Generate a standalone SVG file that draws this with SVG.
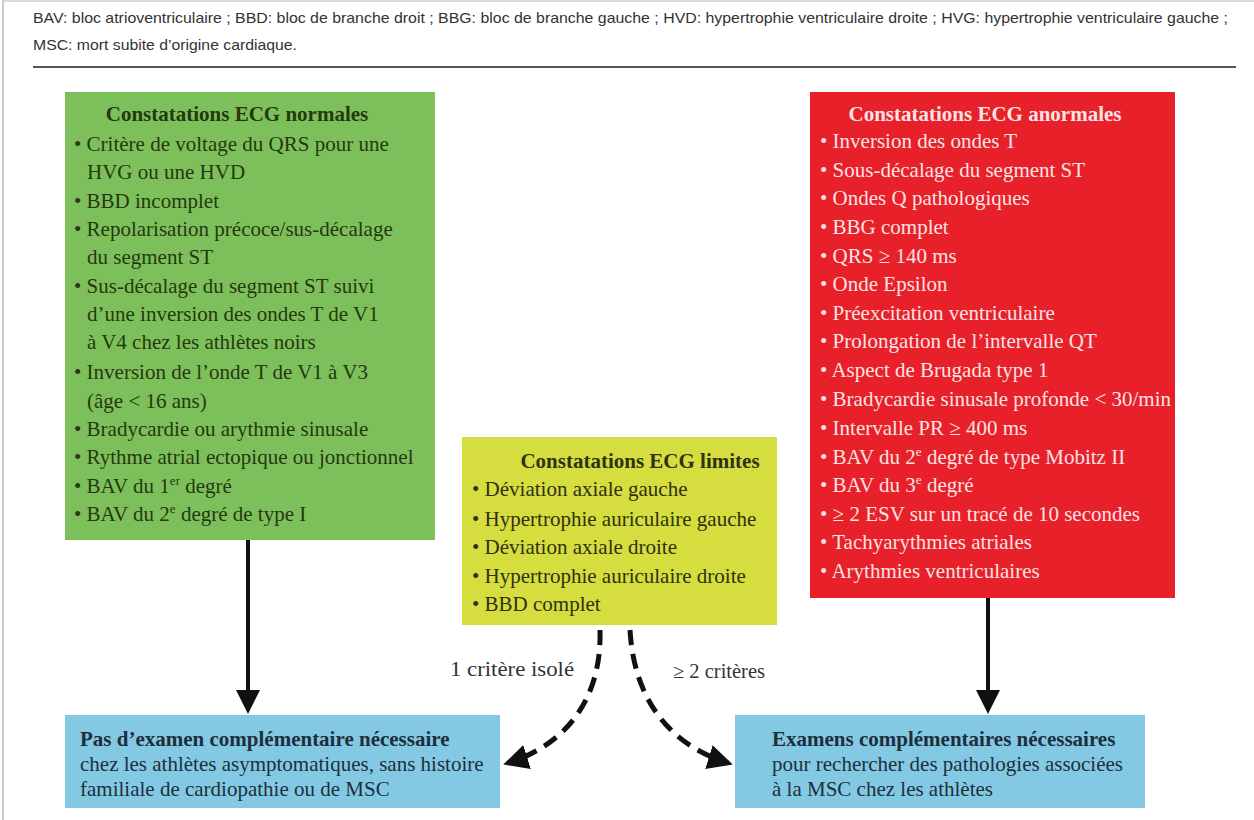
<svg xmlns="http://www.w3.org/2000/svg" width="1254" height="820" viewBox="0 0 1254 820">
<style>
.hdr{font-family:"Liberation Sans",Arial,sans-serif;font-size:14.5px;fill:#333}
.t{font-family:"Liberation Serif","Times New Roman",serif;font-size:21px}
.b{font-family:"Liberation Serif","Times New Roman",serif;font-size:21px;font-weight:bold}
.g{fill:#26380f}
.r{fill:#fbe3e3}
.y{fill:#2e3210}
.bl{fill:#1d2f3c}
.lbl{font-family:"Liberation Serif","Times New Roman",serif;font-size:20px;fill:#333}
.sup{font-size:13px}
.solid{stroke:#111;stroke-width:4;fill:none}
.dash{stroke:#111;stroke-width:5;fill:none;stroke-dasharray:15 9}
</style>
<defs>
<marker id="ah" markerWidth="6" markerHeight="6" refX="5" refY="3" orient="auto" markerUnits="strokeWidth">
<path d="M0,0 L6,3 L0,6 z" fill="#111"/>
</marker>
<marker id="ahd" markerWidth="5" markerHeight="5" refX="4" refY="2.5" orient="auto" markerUnits="strokeWidth">
<path d="M0,0 L5,2.5 L0,5 z" fill="#111"/>
</marker>
</defs>
<rect width="1254" height="820" fill="#fff"/>
<line x1="3" y1="0" x2="3" y2="820" stroke="#bbb" stroke-width="1.5"/>
<line x1="3" y1="1" x2="1254" y2="1" stroke="#ccc" stroke-width="1.5"/>
<g id="header">
<text class="hdr" x="33" y="23" textLength="1195" lengthAdjust="spacingAndGlyphs">BAV: bloc atrioventriculaire ; BBD: bloc de branche droit ; BBG: bloc de branche gauche ; HVD: hypertrophie ventriculaire droite ; HVG: hypertrophie ventriculaire gauche ;</text>
<text class="hdr" x="33" y="50" textLength="264" lengthAdjust="spacingAndGlyphs">MSC: mort subite d’origine cardiaque.</text>
<line x1="33" y1="67" x2="1236" y2="67" stroke="#555" stroke-width="2.2"/>
</g>
<g id="normal">
<rect x="65" y="92" width="370" height="448" fill="#7dc05b"/>
<text class="b g" x="237" y="121" text-anchor="middle">Constatations ECG normales</text>
<g class="t g">
<text x="74" y="151">• Critère de voltage du QRS pour une</text>
<text x="87" y="179">HVG ou une HVD</text>
<text x="74" y="208">• BBD incomplet</text>
<text x="74" y="236">• Repolarisation précoce/sus-décalage</text>
<text x="87" y="264">du segment ST</text>
<text x="74" y="293">• Sus-décalage du segment ST suivi</text>
<text x="87" y="321">d’une inversion des ondes T de V1</text>
<text x="87" y="349">à V4 chez les athlètes noirs</text>
<text x="74" y="379">• Inversion de l’onde T de V1 à V3</text>
<text x="87" y="408">(âge &lt; 16 ans)</text>
<text x="74" y="436">• Bradycardie ou arythmie sinusale</text>
<text x="74" y="464">• Rythme atrial ectopique ou jonctionnel</text>
<text x="74" y="493">• BAV du 1<tspan class="sup" dy="-8">er</tspan><tspan dy="8"> degré</tspan></text>
<text x="74" y="521">• BAV du 2<tspan class="sup" dy="-8">e</tspan><tspan dy="8"> degré de type I</tspan></text>
</g>
</g>
<g id="abnormal">
<rect x="810" y="92" width="365" height="506" fill="#e8202a"/>
<text class="b r" x="985" y="121" text-anchor="middle">Constatations ECG anormales</text>
<g class="t r">
<text x="820" y="148">• Inversion des ondes T</text>
<text x="820" y="177">• Sous-décalage du segment ST</text>
<text x="820" y="205">• Ondes Q pathologiques</text>
<text x="820" y="234">• BBG complet</text>
<text x="820" y="263">• QRS ≥ 140 ms</text>
<text x="820" y="291">• Onde Epsilon</text>
<text x="820" y="320">• Préexcitation ventriculaire</text>
<text x="820" y="348">• Prolongation de l’intervalle QT</text>
<text x="820" y="377">• Aspect de Brugada type 1</text>
<text x="820" y="406">• Bradycardie sinusale profonde &lt; 30/min</text>
<text x="820" y="435">• Intervalle PR ≥ 400 ms</text>
<text x="820" y="464">• BAV du 2<tspan class="sup" dy="-8">e</tspan><tspan dy="8"> degré de type Mobitz II</tspan></text>
<text x="820" y="492">• BAV du 3<tspan class="sup" dy="-8">e</tspan><tspan dy="8"> degré</tspan></text>
<text x="820" y="521">• ≥ 2 ESV sur un tracé de 10 secondes</text>
<text x="820" y="549">• Tachyarythmies atriales</text>
<text x="820" y="578">• Arythmies ventriculaires</text>
</g>
</g>
<g id="limites">
<rect x="462" y="437" width="315" height="188" fill="#d6dd3e"/>
<text class="b y" x="640" y="468" text-anchor="middle">Constatations ECG limites</text>
<g class="t y">
<text x="472" y="496">• Déviation axiale gauche</text>
<text x="472" y="526">• Hypertrophie auriculaire gauche</text>
<text x="472" y="554">• Déviation axiale droite</text>
<text x="472" y="583">• Hypertrophie auriculaire droite</text>
<text x="472" y="611">• BBD complet</text>
</g>
</g>
<g id="pas-examen">
<rect x="65" y="715" width="435" height="93" fill="#84c9e4"/>
<text class="b bl" x="80" y="746">Pas d’examen complémentaire nécessaire</text>
<text class="t bl" x="80" y="771">chez les athlètes asymptomatiques, sans histoire</text>
<text class="t bl" x="80" y="796">familiale de cardiopathie ou de MSC</text>
</g>
<g id="examens">
<rect x="735" y="715" width="410" height="93" fill="#84c9e4"/>
<text class="b bl" x="772" y="746">Examens complémentaires nécessaires</text>
<text class="t bl" x="772" y="771">pour rechercher des pathologies associées</text>
<text class="t bl" x="772" y="796">à la MSC chez les athlètes</text>
</g>
<g id="connectors">
<line class="solid" x1="248" y1="540" x2="248" y2="710" marker-end="url(#ah)"/>
<line class="solid" x1="988" y1="598" x2="988" y2="710" marker-end="url(#ah)"/>
<path class="dash" d="M600,630 C602,700 565,745 508,763" marker-end="url(#ahd)"/>
<path class="dash" d="M630,630 C634,700 670,745 728,763" marker-end="url(#ahd)"/>
<text class="lbl" x="450" y="676" textLength="124" lengthAdjust="spacingAndGlyphs">1 critère isolé</text>
<text class="lbl" x="673" y="678" textLength="92" lengthAdjust="spacingAndGlyphs">≥ 2 critères</text>
</g>
</svg>
